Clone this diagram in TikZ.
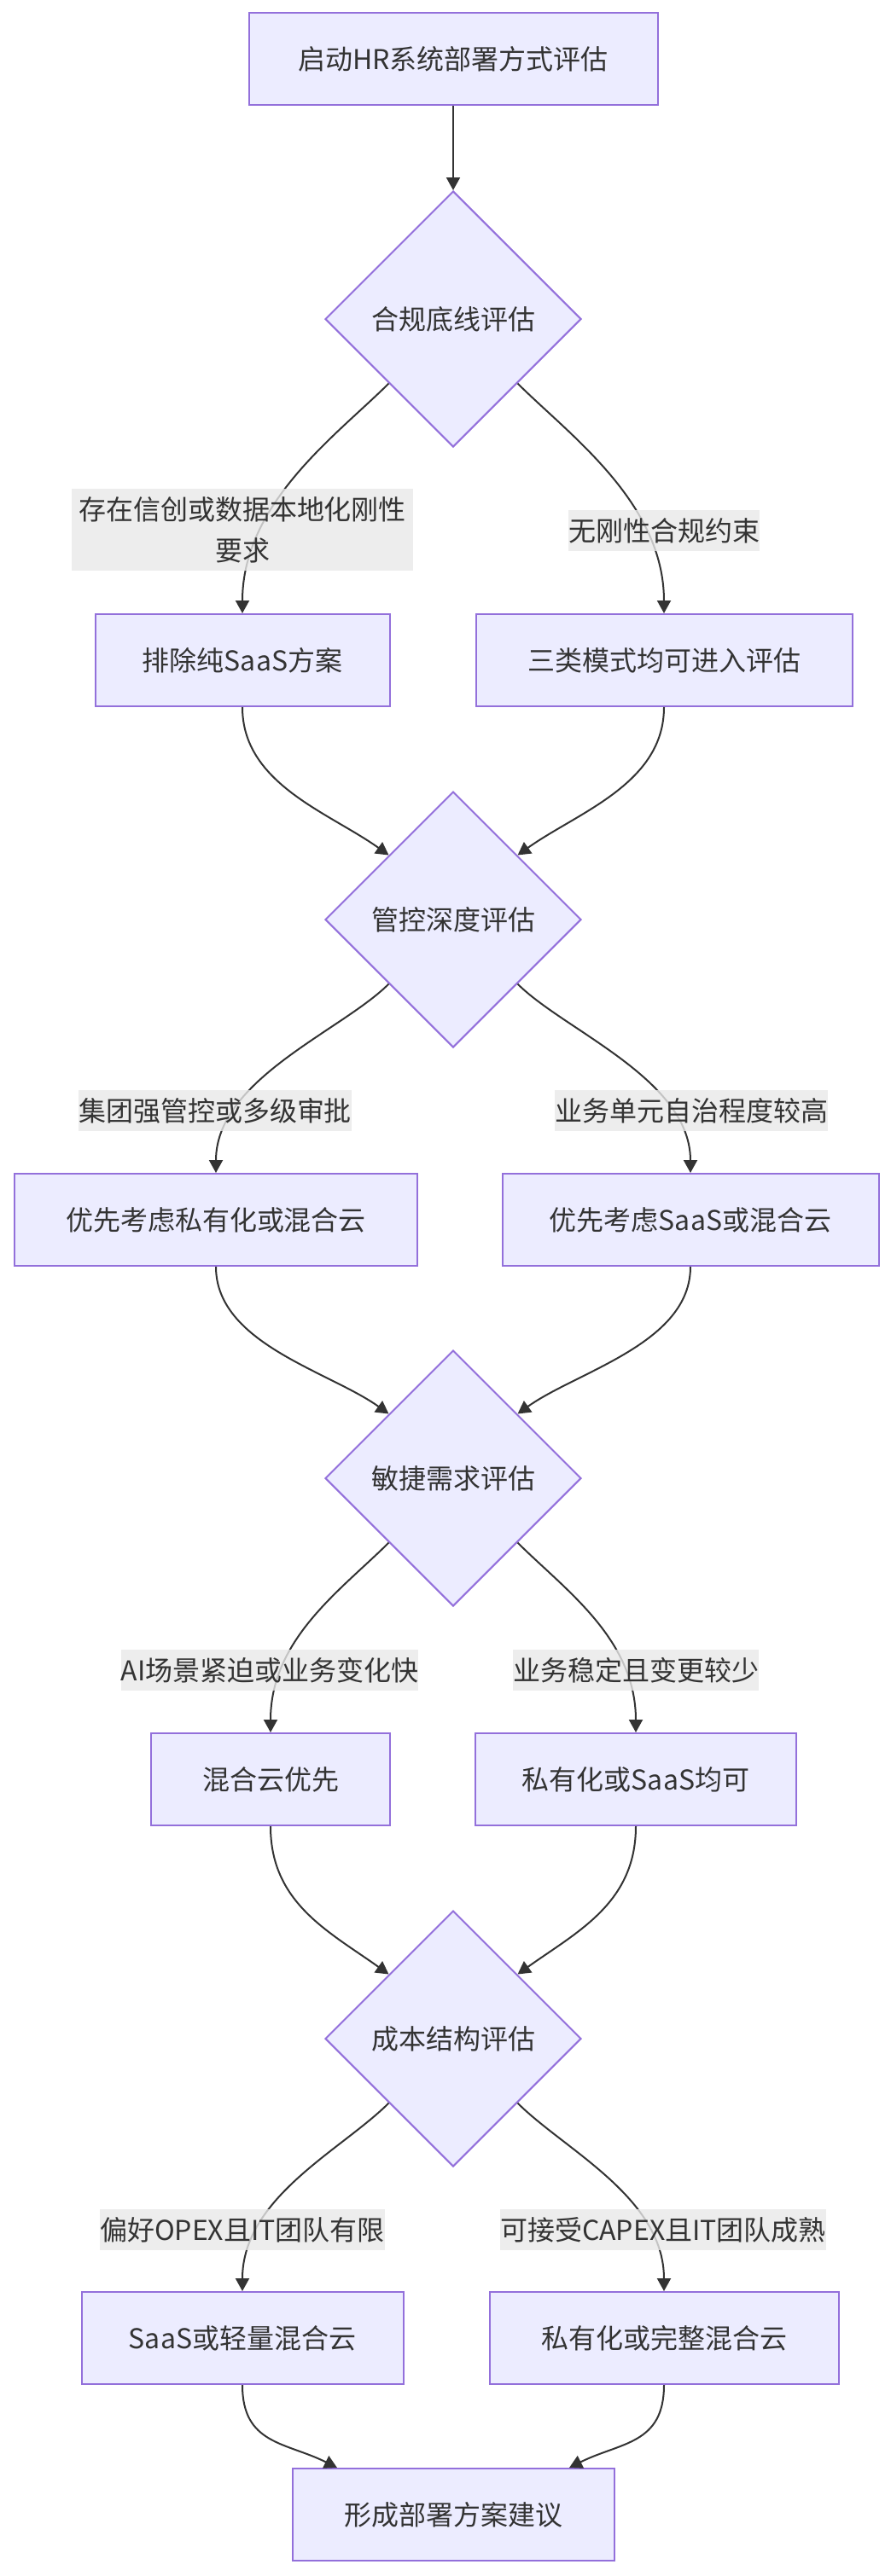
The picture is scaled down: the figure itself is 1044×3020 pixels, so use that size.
\documentclass[tikz,border=0pt]{standalone}
\usepackage{fontspec}
\newfontfamily\cjk{Noto Sans CJK SC}
\usetikzlibrary{arrows.meta, shapes.geometric}
\definecolor{nodefill}{HTML}{ECECFF}
\definecolor{nodeline}{HTML}{9370DB}
\definecolor{lblfill}{HTML}{E8E8E8}
\definecolor{inkgray}{HTML}{333333}

\begin{document}
\begin{tikzpicture}[x=1pt, y=1pt,
  procbox/.style={rectangle, draw=nodeline, fill=nodefill, line width=2pt,
                  minimum height=108pt, inner sep=0pt, align=center,
                  text=inkgray, font=\cjk\fontsize{32}{48}\selectfont},
  decbox/.style={diamond, aspect=1, draw=nodeline, fill=nodefill, line width=2pt,
                 minimum width=300pt, minimum height=300pt, inner sep=0pt,
                 align=center, text=inkgray, font=\cjk\fontsize{32}{48}\selectfont},
  lbl/.style={rectangle, fill=lblfill, fill opacity=0.8, text opacity=1,
              inner sep=0pt, minimum height=48pt, align=center,
              text=inkgray, font=\cjk\fontsize{32}{48}\selectfont},
  arr/.style={-{Triangle[length=15pt, width=16pt]}, line width=2pt, draw=inkgray}
]
\useasboundingbox (0,0) rectangle (1044,-3020);

\node[procbox, minimum width=479pt] (start) at (531,  -69)  {启动HR系统部署方式评估};
\node[decbox]                       (d1)    at (531, -374)  {合规底线评估};
\node[procbox, minimum width=345pt] (b1a)   at (284, -774)  {排除纯SaaS方案};
\node[procbox, minimum width=441pt] (b1b)   at (778, -774)  {三类模式均可进入评估};
\node[decbox]                       (d2)    at (531,-1078)  {管控深度评估};
\node[procbox, minimum width=472pt] (b2a)   at (253,-1430)  {优先考虑私有化或混合云};
\node[procbox, minimum width=441pt] (b2b)   at (809,-1430)  {优先考虑SaaS或混合云};
\node[decbox]                       (d3)    at (531,-1733)  {敏捷需求评估};
\node[procbox, minimum width=280pt] (b3a)   at (317,-2086)  {混合云优先};
\node[procbox, minimum width=376pt] (b3b)   at (745,-2086)  {私有化或SaaS均可};
\node[decbox]                       (d4)    at (531,-2390)  {成本结构评估};
\node[procbox, minimum width=377pt] (b4a)   at (284,-2741)  {SaaS或轻量混合云};
\node[procbox, minimum width=409pt] (b4b)   at (778,-2741)  {私有化或完整混合云};
\node[procbox, minimum width=377pt] (fin)   at (531,-2948)  {形成部署方案建议};

\draw[arr] (start) -- (d1);
\draw[arr] (d1.south west) .. controls +(-60,-60) and +(0,130) .. (b1a.north);
\draw[arr] (d1.south east) .. controls +(60,-60) and +(0,130) .. (b1b.north);
\draw[arr] (b1a.south) .. controls +(0,-90) and +(-70,50) .. (d2.north west);
\draw[arr] (b1b.south) .. controls +(0,-90) and +(70,50) .. (d2.north east);
\draw[arr] (d2.south west) .. controls +(-55,-55) and +(0,110) .. (b2a.north);
\draw[arr] (d2.south east) .. controls +(55,-55) and +(0,110) .. (b2b.north);
\draw[arr] (b2a.south) .. controls +(0,-90) and +(-70,50) .. (d3.north west);
\draw[arr] (b2b.south) .. controls +(0,-90) and +(70,50) .. (d3.north east);
\draw[arr] (d3.south west) .. controls +(-55,-55) and +(0,110) .. (b3a.north);
\draw[arr] (d3.south east) .. controls +(55,-55) and +(0,110) .. (b3b.north);
\draw[arr] (b3a.south) .. controls +(0,-90) and +(-70,50) .. (d4.north west);
\draw[arr] (b3b.south) .. controls +(0,-90) and +(70,50) .. (d4.north east);
\draw[arr] (d4.south west) .. controls +(-55,-55) and +(0,110) .. (b4a.north);
\draw[arr] (d4.south east) .. controls +(55,-55) and +(0,110) .. (b4b.north);
\draw[arr] (b4a.south) .. controls +(0,-70) and +(-60,30) .. ([xshift=-136pt]fin.north);
\draw[arr] (b4b.south) .. controls +(0,-70) and +(60,30) .. ([xshift=136pt]fin.north);

% edge labels sit on top of the curves
\node[lbl, minimum width=400pt, minimum height=96pt] (l1a) at (284, -621) {存在信创或数据本地化刚性\\要求};
\node[lbl] (l1b) at (778, -622) {无刚性合规约束};
\node[lbl] (l2a) at (252,-1302) {集团强管控或多级审批};
\node[lbl] (l2b) at (810,-1302) {业务单元自治程度较高};
\node[lbl] (l3a) at (316,-1958) {AI场景紧迫或业务变化快};
\node[lbl] (l3b) at (745,-1958) {业务稳定且变更较少};
\node[lbl] (l4a) at (284,-2614) {偏好OPEX且IT团队有限};
\node[lbl] (l4b) at (777,-2614) {可接受CAPEX且IT团队成熟};

\end{tikzpicture}
\end{document}
